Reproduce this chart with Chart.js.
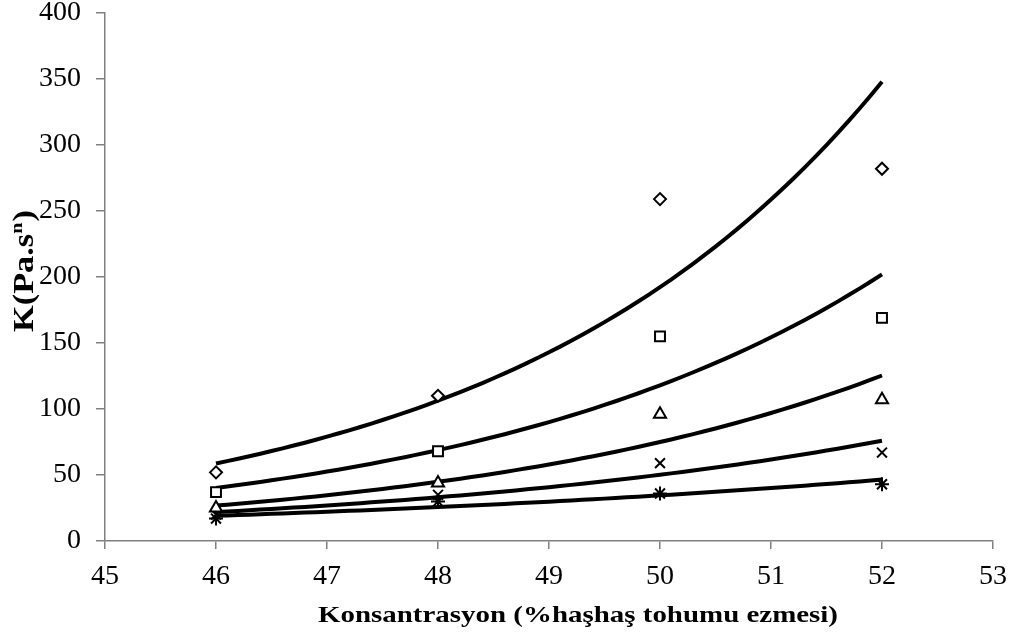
<!DOCTYPE html>
<html>
<head>
<meta charset="utf-8">
<script src="https://cdn.jsdelivr.net/npm/chart.js@4/dist/chart.umd.min.js"></script>
<style>
  html, body { margin: 0; padding: 0; background: #fff; }
  #wrap { width: 1035px; height: 642px; }
</style>
</head>
<body>
<div id="wrap"><canvas id="c" width="1035" height="642"></canvas></div>
<script>
// Concentration (% poppy seed paste)
const concentrations = [46, 48, 50, 52];

// Consistency coefficient K (Pa.s^n), one series per marker
const kDiamond  = [52, 110, 259, 282];
const kSquare   = [37, 68, 155, 169];
const kTriangle = [25, 44, 96, 107];
const kCross    = [20, 35, 59, 67];
const kStar     = [17, 30, 36, 43];

const xTicks = [45, 46, 47, 48, 49, 50, 51, 52, 53];
const yTicks = [0, 50, 100, 150, 200, 250, 300, 350, 400];

const xTitle = 'Konsantrasyon (%haşhaş tohumu ezmesi)';
const yTitleMain = 'K(Pa.s';
const yTitleSup = 'n';
const yTitleEnd = ')';

const seriesList = [
  { values: kDiamond,  marker: 'rectRot',  radius: 6 },
  { values: kSquare,   marker: 'rect',     radius: 7 },
  { values: kTriangle, marker: 'triangle', radius: 7 },
  { values: kCross,    marker: 'crossRot', radius: 7 },
  { values: kStar,     marker: 'star',     radius: 7 }
];

// Exponential trendline y = a * e^(b x), least squares on ln(y)
function expFit(xs, ys) {
  const n = xs.length;
  const ly = ys.map(v => Math.log(v));
  const mx = xs.reduce((s, v) => s + v, 0) / n;
  const my = ly.reduce((s, v) => s + v, 0) / n;
  let sxy = 0, sxx = 0;
  for (let i = 0; i < n; i++) {
    sxy += (xs[i] - mx) * (ly[i] - my);
    sxx += (xs[i] - mx) * (xs[i] - mx);
  }
  const b = sxy / sxx;
  const lnA = my - b * mx;
  return x => Math.exp(lnA + b * x);
}

function trendPoints(values) {
  const f = expFit(concentrations, values);
  const x0 = concentrations[0], x1 = concentrations[concentrations.length - 1];
  const pts = [];
  const steps = 60;
  for (let i = 0; i <= steps; i++) {
    const x = x0 + (x1 - x0) * i / steps;
    pts.push({ x: x, y: f(x) });
  }
  return pts;
}

const datasets = [];
seriesList.forEach(s => {
  datasets.push({
    type: 'line',
    data: trendPoints(s.values),
    borderColor: '#000',
    borderWidth: 4,
    pointRadius: 0,
    fill: false,
    tension: 0,
    order: 2
  });
});
seriesList.forEach(s => {
  datasets.push({
    type: 'scatter',
    data: concentrations.map((x, i) => ({ x: x, y: s.values[i] })),
    pointStyle: s.marker,
    pointRadius: s.radius,
    pointBorderColor: '#000',
    pointBackgroundColor: '#fff',
    pointBorderWidth: 2,
    showLine: false,
    order: 1
  });
});

const serif = "'Liberation Serif', 'Times New Roman', serif";

// Axis titles, drawn as wide serif text (x) and rotated text with a superscript (y)
const axisTitles = {
  id: 'axisTitles',
  afterDraw(chart) {
    const ctx = chart.ctx;
    ctx.save();
    ctx.fillStyle = '#000';
    ctx.textBaseline = 'alphabetic';
    ctx.textAlign = 'left';

    // x title
    ctx.font = 'bold 23px ' + serif;
    const wx = ctx.measureText(xTitle).width;
    ctx.translate(318, 622);
    ctx.scale(520 / wx, 1);
    ctx.fillText(xTitle, 0, 0);
    ctx.restore();

    // y title
    ctx.save();
    ctx.fillStyle = '#000';
    ctx.textBaseline = 'alphabetic';
    ctx.textAlign = 'left';
    const bigFont = 'bold 29px ' + serif;
    const supFont = 'bold 17px ' + serif;
    ctx.font = bigFont;
    const w1 = ctx.measureText(yTitleMain).width;
    const w3 = ctx.measureText(yTitleEnd).width;
    ctx.font = supFont;
    const w2 = ctx.measureText(yTitleSup).width + 1;
    const total = w1 + w2 + w3;
    ctx.translate(33, 332);
    ctx.rotate(-Math.PI / 2);
    ctx.scale(122 / total, 1);
    ctx.font = bigFont;
    ctx.fillText(yTitleMain, 0, 0);
    ctx.font = supFont;
    ctx.fillText(yTitleSup, w1, -11);
    ctx.font = bigFont;
    ctx.fillText(yTitleEnd, w1 + w2, 0);
    ctx.restore();
  }
};

new Chart(document.getElementById('c'), {
  type: 'scatter',
  data: { datasets: datasets },
  plugins: [axisTitles],
  options: {
    responsive: false,
    animation: false,
    devicePixelRatio: 1,
    layout: { padding: { top: 13, right: 42, left: 0, bottom: 0 } },
    plugins: { legend: { display: false }, tooltip: { enabled: false } },
    scales: {
      x: {
        type: 'linear',
        min: 45, max: 53,
        afterBuildTicks: s => { s.ticks = xTicks.map(v => ({ value: v })); },
        afterFit: s => { s.height = 101; s.paddingLeft = 0; s.paddingRight = 0; },
        border: { display: true, color: '#808080', width: 1.5 },
        grid: { drawOnChartArea: false, drawTicks: true, tickLength: 8, color: '#808080', lineWidth: 1.5 },
        ticks: { color: '#000', font: { family: serif, size: 28 }, padding: 11, maxRotation: 0 }
      },
      y: {
        type: 'linear',
        min: 0, max: 400,
        afterBuildTicks: s => { s.ticks = yTicks.map(v => ({ value: v })); },
        afterFit: s => { s.width = 105; s.paddingTop = 0; s.paddingBottom = 0; },
        border: { display: true, color: '#808080', width: 1.5 },
        grid: { drawOnChartArea: false, drawTicks: true, tickLength: 9, color: '#808080', lineWidth: 1.5 },
        ticks: { color: '#000', font: { family: serif, size: 28 }, padding: 15 }
      }
    }
  }
});
</script>
</body>
</html>
